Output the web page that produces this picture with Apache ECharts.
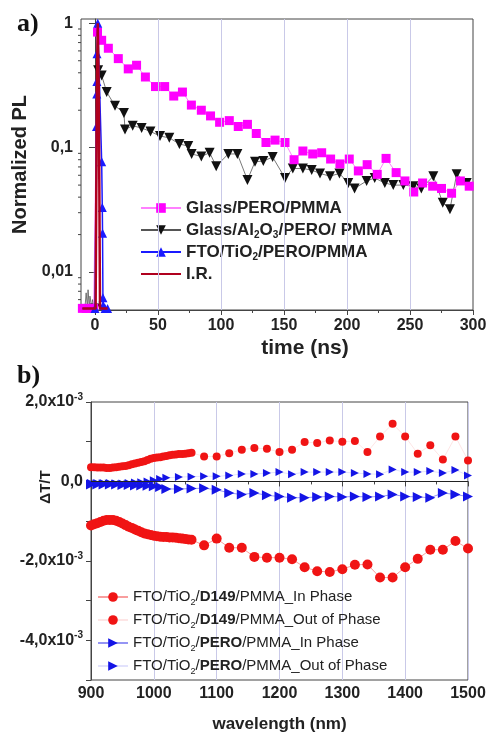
<!DOCTYPE html>
<html lang="en">
<head>
  <meta charset="UTF-8">
  <title>PL decay and photoinduced absorption</title>
  <script src="https://cdn.jsdelivr.net/npm/echarts@6/dist/echarts.min.js"></script>
  <style>
    html, body { margin: 0; padding: 0; background: #fff; }
    #main { width: 487px; height: 733px; }
  </style>
</head>
<body>
<div id="main"></div>
<script>
  // ---- a) normalized PL decay, time in ns ----
  var pinkTime = [-10, -7, -4, -1, 2, 5.3, 10.6, 18.5, 26.4, 33, 40, 48, 55.3, 62.5, 69.4,
    76.5, 84.4, 91.7, 98.9, 106.6, 113.7, 121, 128, 135.7, 142.9,
    150.8, 158, 165, 172.8, 179.9, 187, 194.4, 201.8, 209, 216,
    224, 231, 239, 246, 253, 260, 268, 275, 283, 290, 297];
  var pinkPL = [0.0051, 0.0051, 0.0051, 0.0051, 0.85, 0.73, 0.63, 0.52, 0.43, 0.46, 0.37, 0.31, 0.31, 0.26, 0.28,
    0.22, 0.20, 0.18, 0.16, 0.165, 0.148, 0.154, 0.13, 0.11, 0.115,
    0.11, 0.080, 0.094, 0.089, 0.091, 0.081, 0.074, 0.081, 0.065, 0.073,
    0.061, 0.082, 0.063, 0.054, 0.044, 0.052, 0.049, 0.047, 0.043, 0.054, 0.049];

  var blackTime = [-10, -8, -7, -6, -5.5, -4.5, -4, -2.5, -2, 0,
    2.5, 5.3, 9.3, 15.9, 23, 23.8, 29.9, 37, 44, 51.6,
    59, 67, 74, 76.7, 84.4, 91, 96.2, 105.8, 113, 121,
    127, 133.6, 141, 150.8, 157, 165, 172, 178.6, 186.5, 194,
    201, 206, 215.6, 222, 230, 236.7, 244.7, 252.6, 259, 268.5,
    276, 281.7, 287, 295];
  var blackPL = [0.0051, 0.0051, 0.0068, 0.0051, 0.0072, 0.0051, 0.0064, 0.0051, 0.006, 0.0051,
    0.42, 0.38, 0.28, 0.217, 0.19, 0.14, 0.15, 0.144, 0.135, 0.124,
    0.12, 0.107, 0.103, 0.089, 0.085, 0.091, 0.071, 0.089, 0.089, 0.055,
    0.077, 0.078, 0.084, 0.057, 0.068, 0.068, 0.066, 0.062, 0.059, 0.062,
    0.052, 0.047, 0.054, 0.057, 0.052, 0.050, 0.050, 0.049, 0.047, 0.059,
    0.036, 0.032, 0.061, 0.052];

  var blueTime = [-10, 0, 1.2, 1.4, 1.5, 1.6, 2.2, 5.3, 5.8, 6, 6.3, 6.5, 8, 10];
  var bluePL = [0.0051, 0.0051, 0.148, 0.27, 0.34, 0.57, 1.0, 0.077, 0.033, 0.0205, 0.0062, 0.0054, 0.0051, 0.0051];

  var irTime = [-10, 0.5, 1.5, 2.2, 3, 4, 10];
  var irPL = [0.0051, 0.0051, 0.3, 1.0, 0.3, 0.0051, 0.0051];

  var timeTicks = [0, 50, 100, 150, 200, 250, 300];
  var timeGrid = [50, 100, 150, 200, 250];
  var timeMinor = [25, 75, 125, 175, 225, 275];
  var plTicks = [0.01, 0.1, 1];
  var plMinor = [0.006, 0.007, 0.008, 0.009, 0.02, 0.03, 0.04, 0.05, 0.06, 0.07, 0.08, 0.09,
    0.2, 0.3, 0.4, 0.5, 0.6, 0.7, 0.8, 0.9];

  // ---- b) dT/T versus wavelength, values in units of 1e-3 ----
  var wlDense = [900, 905, 910, 915, 920, 925, 930, 935, 940, 945, 950, 955, 960, 965, 970, 975,
    980, 985, 990, 995, 1000, 1005, 1010, 1015, 1020, 1025, 1030, 1035, 1040, 1045, 1050, 1055, 1060];
  var wlSparse = [1080, 1100, 1120, 1140, 1160, 1180, 1200, 1220, 1240, 1260, 1280,
    1300, 1320, 1340, 1360, 1380, 1400, 1420, 1440, 1460, 1480, 1500];
  var d149InDense = [-1.11, -1.08, -1.05, -1.02, -0.99, -0.97, -0.97, -0.97, -0.99, -1.02, -1.06, -1.10, -1.14, -1.17, -1.21, -1.24,
    -1.28, -1.31, -1.33, -1.35, -1.37, -1.38, -1.39, -1.40, -1.40, -1.41, -1.41, -1.42, -1.43, -1.44, -1.45, -1.46, -1.47];
  var d149InSparse = [-1.61, -1.44, -1.67, -1.67, -1.90, -1.92, -1.92, -1.96, -2.16, -2.26, -2.28,
    -2.21, -2.10, -2.09, -2.42, -2.42, -2.16, -1.95, -1.72, -1.72, -1.50, -1.69];
  var d149OutDense = [0.36, 0.36, 0.35, 0.35, 0.35, 0.34, 0.34, 0.35, 0.36, 0.37, 0.38, 0.39, 0.41, 0.43, 0.45, 0.47,
    0.49, 0.51, 0.54, 0.57, 0.59, 0.60, 0.61, 0.63, 0.64, 0.66, 0.67, 0.68, 0.69, 0.69, 0.70, 0.71, 0.72];
  var d149OutSparse = [0.63, 0.63, 0.71, 0.80, 0.84, 0.82, 0.74, 0.80, 0.99, 0.97, 1.03,
    1.00, 1.02, 0.74, 1.13, 1.45, 1.13, 0.70, 0.91, 0.55, 1.13, 0.53];

  var wlPeroDense = [900, 910, 920, 930, 940, 950, 960, 970, 980, 990, 1000, 1010];
  var wlPeroSparse = [1020, 1040, 1060, 1080, 1100, 1120, 1140, 1160, 1180, 1200, 1220, 1240, 1260,
    1280, 1300, 1320, 1340, 1360, 1380, 1400, 1420, 1440, 1460, 1480, 1500];
  var peroInDense = [-0.08, -0.08, -0.08, -0.08, -0.08, -0.09, -0.09, -0.10, -0.10, -0.11, -0.12, -0.14];
  var peroInSparse = [-0.19, -0.19, -0.18, -0.17, -0.21, -0.29, -0.33, -0.29, -0.35, -0.38, -0.41, -0.41, -0.39,
    -0.38, -0.39, -0.38, -0.39, -0.38, -0.33, -0.38, -0.39, -0.41, -0.29, -0.33, -0.38];
  var peroOutDense = [-0.04, -0.04, -0.04, -0.04, -0.05, -0.05, -0.04, -0.03, -0.02, 0.0, 0.03, 0.06];
  var peroOutSparse = [0.09, 0.11, 0.12, 0.13, 0.13, 0.15, 0.19, 0.19, 0.21, 0.235, 0.18, 0.235, 0.235,
    0.235, 0.235, 0.21, 0.19, 0.18, 0.30, 0.235, 0.235, 0.26, 0.21, 0.29, 0.15];

  var FONT = 'Liberation Sans';
  var TXT = '#222';
  var AX = '#444';
  var GRIDLINE = '#c9c9e8';

  function pairs(xs, ys) {
    return xs.map(function (x, i) { return [x, ys[i]]; });
  }
  // no markers on the pre-trigger baseline noise
  function markAfterZero(xs, ys) {
    return xs.map(function (x, i) {
      return x < 0 ? { value: [x, ys[i]], symbol: 'none' } : [x, ys[i]];
    });
  }

  var A_XMIN = -11.1, A_XMAX = 300, A_YMIN = 0.00495, A_YMAX = 1.083;

  function minorTickX(params, api) {
    var p = api.coord([api.value(0), A_YMIN]);
    return { type: 'line', shape: { x1: p[0], y1: p[1], x2: p[0], y2: p[1] + 3 },
      style: { stroke: AX, lineWidth: 1 } };
  }
  function minorTickY(params, api) {
    var p = api.coord([A_XMIN, api.value(1)]);
    return { type: 'line', shape: { x1: p[0], y1: p[1], x2: p[0] - 3, y2: p[1] },
      style: { stroke: AX, lineWidth: 1 } };
  }

  var legendNamesA = ['Glass/PERO/PMMA', 'Glass/Al2O3/PERO/ PMMA', 'FTO/TiO2/PERO/PMMA',
    { name: 'I.R.', itemStyle: { opacity: 0 } }];
  var legendRichA = {
    'Glass/PERO/PMMA': '{t|Glass/PERO/PMMA}',
    'Glass/Al2O3/PERO/ PMMA': '{t|Glass/Al}{u|2}{t|O}{u|3}{t|/PERO/ PMMA}',
    'FTO/TiO2/PERO/PMMA': '{t|FTO/TiO}{u|2}{t|/PERO/PMMA}',
    'I.R.': '{t|I.R.}'
  };
  var legendNamesB = ['D149 In Phase', 'D149 Out of Phase', 'PERO In Phase', 'PERO Out of Phase'];
  var legendRichB = {
    'D149 In Phase': '{t|FTO/TiO}{u|2}{t|/}{b|D149}{t|/PMMA_In Phase}',
    'D149 Out of Phase': '{t|FTO/TiO}{u|2}{t|/}{b|D149}{t|/PMMA_Out of Phase}',
    'PERO In Phase': '{t|FTO/TiO}{u|2}{t|/}{b|PERO}{t|/PMMA_In Phase}',
    'PERO Out of Phase': '{t|FTO/TiO}{u|2}{t|/}{b|PERO}{t|/PMMA_Out of Phase}'
  };

  function expLabel(v) {
    var n = Math.round(v);
    if (Math.abs(v - n) > 1e-6 || n % 2 !== 0) return '';
    if (n === 0) return '{a|0,0}';
    return '{a|' + n + ',0x10}{s|-3}';
  }

  var chart = echarts.init(document.getElementById('main'));

  var option = {
    animation: false,
    backgroundColor: '#fff',
    textStyle: { fontFamily: FONT },
    grid: [
      { left: 81, top: 19, width: 392, height: 291, show: true, borderColor: AX, borderWidth: 1,
        outerBoundsMode: 'none' },
      { left: 91, top: 402, width: 377, height: 278, show: true, borderColor: AX, borderWidth: 1,
        outerBoundsMode: 'none' }
    ],
    xAxis: [
      {
        gridIndex: 0, type: 'value', min: A_XMIN, max: A_XMAX, splitNumber: 6,
        name: 'time (ns)', nameLocation: 'middle', nameGap: 28,
        nameTextStyle: { fontFamily: FONT, fontWeight: 'bold', fontSize: 21, color: TXT, padding: [0, 0, 0, 56] },
        axisLine: { lineStyle: { color: AX } },
        axisTick: { customValues: timeTicks, length: 5, lineStyle: { color: AX } },
        axisLabel: { customValues: timeTicks, margin: 8, fontFamily: FONT, fontWeight: 'bold', fontSize: 16, color: TXT },
        splitLine: { show: false }
      },
      {
        gridIndex: 1, type: 'value', min: 900, max: 1500, interval: 100,
        name: 'wavelength (nm)', nameLocation: 'middle', nameGap: 36,
        nameTextStyle: { fontFamily: FONT, fontWeight: 'bold', fontSize: 17, color: TXT },
        axisLine: { lineStyle: { color: AX } },
        axisTick: { length: 5, lineStyle: { color: AX } },
        minorTick: { show: true, splitNumber: 2, length: 3, lineStyle: { color: AX } },
        axisLabel: {
          margin: 6, fontFamily: FONT, fontWeight: 'bold', fontSize: 16, color: TXT,
          formatter: function (v) { return String(v); }
        },
        splitLine: { show: true, lineStyle: { color: GRIDLINE, width: 1 } }
      }
    ],
    yAxis: [
      {
        gridIndex: 0, type: 'log', logBase: 10, min: A_YMIN, max: A_YMAX,
        name: 'Normalized PL', nameLocation: 'middle', nameGap: 36,
        nameTextStyle: { fontFamily: FONT, fontWeight: 'bold', fontSize: 20, color: TXT },
        axisLine: { lineStyle: { color: AX } },
        axisTick: { customValues: plTicks, length: 6, lineStyle: { color: AX } },
        axisLabel: {
          customValues: plTicks, margin: 8, fontFamily: FONT, fontWeight: 'bold', fontSize: 16, color: TXT,
          formatter: function (v) {
            if (Math.abs(v - 1) < 1e-9) return '1';
            if (Math.abs(v - 0.1) < 1e-9) return '0,1';
            if (Math.abs(v - 0.01) < 1e-9) return '0,01';
            return '';
          }
        },
        splitLine: { show: false }
      },
      {
        gridIndex: 1, type: 'value', min: -5, max: 2, interval: 1,
        axisLine: { lineStyle: { color: AX } },
        axisTick: { length: 5, lineStyle: { color: AX } },
        axisLabel: {
          margin: 8, formatter: expLabel,
          rich: {
            a: { fontFamily: FONT, fontWeight: 'bold', fontSize: 16, color: TXT, lineHeight: 20 },
            s: { fontFamily: FONT, fontWeight: 'bold', fontSize: 10, color: TXT, lineHeight: 10, verticalAlign: 'top' }
          }
        },
        splitLine: { show: false }
      }
    ],
    legend: [
      {
        data: legendNamesA, orient: 'vertical', left: 135, top: 192,
        itemWidth: 40, itemHeight: 12, itemGap: 0,
        formatter: function (n) { return legendRichA[n]; },
        textStyle: {
          fontFamily: FONT, color: TXT, lineHeight: 22,
          rich: {
            t: { fontFamily: FONT, fontWeight: 'bold', fontSize: 17, color: TXT, lineHeight: 22 },
            u: { fontFamily: FONT, fontWeight: 'bold', fontSize: 10, color: TXT, lineHeight: 12, padding: [10, 0, 0, 0] }
          }
        }
      },
      {
        data: legendNamesB, orient: 'vertical', left: 92, top: 581,
        itemWidth: 30, itemHeight: 12, itemGap: 1,
        formatter: function (n) { return legendRichB[n]; },
        textStyle: {
          fontFamily: FONT, color: TXT, lineHeight: 22,
          rich: {
            t: { fontFamily: FONT, fontSize: 15, color: TXT, lineHeight: 22 },
            b: { fontFamily: FONT, fontWeight: 'bold', fontSize: 15, color: TXT, lineHeight: 22 },
            u: { fontFamily: FONT, fontSize: 9, color: TXT, lineHeight: 11, padding: [11, 0, 0, 0] }
          }
        }
      }
    ],
    graphic: [
      { type: 'text', left: 17, top: 11, style: { text: 'a)', font: 'bold 26px "Liberation Serif"', fill: '#111' } },
      { type: 'text', left: 17, top: 363, style: { text: 'b)', font: 'bold 26px "Liberation Serif"', fill: '#111' } },
      { type: 'text', x: 46, y: 487, rotation: Math.PI / 2,
        style: { text: 'ΔT/T', font: 'bold 15px "Liberation Sans"', fill: TXT, align: 'center', verticalAlign: 'middle' } }
    ],
    series: [
      {
        // vertical grid lines of panel a
        type: 'line', xAxisIndex: 0, yAxisIndex: 0, data: [], z: 0, silent: true,
        markLine: {
          silent: true, symbol: ['none', 'none'], label: { show: false },
          lineStyle: { color: GRIDLINE, type: 'solid', width: 1 },
          data: timeGrid.map(function (t) { return { xAxis: t }; })
        }
      },
      {
        name: 'Glass/Al2O3/PERO/ PMMA', type: 'line', xAxisIndex: 0, yAxisIndex: 0,
        data: markAfterZero(blackTime, blackPL),
        symbol: 'triangle', symbolRotate: 180, symbolSize: 10, z: 2,
        itemStyle: { color: '#111' }, lineStyle: { color: '#555', width: 0.8 }
      },
      {
        name: 'Glass/PERO/PMMA', type: 'line', xAxisIndex: 0, yAxisIndex: 0,
        data: pairs(pinkTime, pinkPL),
        symbol: 'rect', symbolSize: 9, z: 3,
        itemStyle: { color: '#ff00ff' }, lineStyle: { color: '#ff80ff', width: 1 }
      },
      {
        name: 'FTO/TiO2/PERO/PMMA', type: 'line', xAxisIndex: 0, yAxisIndex: 0,
        data: markAfterZero(blueTime, bluePL),
        symbol: 'triangle', symbolSize: 9, z: 4,
        itemStyle: { color: '#1a1aff' }, lineStyle: { color: '#1a1aff', width: 1.5 }
      },
      {
        name: 'I.R.', type: 'line', xAxisIndex: 0, yAxisIndex: 0,
        data: pairs(irTime, irPL), symbol: 'none', z: 5,
        itemStyle: { color: '#d0102a' }, lineStyle: { color: '#b0001e', width: 2.5 }
      },
      {
        type: 'custom', xAxisIndex: 0, yAxisIndex: 0, clip: false, silent: true,
        data: timeMinor.map(function (t) { return [t, A_YMIN]; }), renderItem: minorTickX
      },
      {
        type: 'custom', xAxisIndex: 0, yAxisIndex: 0, clip: false, silent: true,
        data: plMinor.map(function (v) { return [A_XMIN, v]; }), renderItem: minorTickY
      },
      {
        name: 'D149 In Phase', type: 'line', xAxisIndex: 1, yAxisIndex: 1,
        data: pairs(wlDense.concat(wlSparse), d149InDense.concat(d149InSparse)),
        symbol: 'circle', symbolSize: 10,
        itemStyle: { color: '#f01414' }, lineStyle: { color: 'rgba(240,40,40,0.45)', width: 1 },
        markLine: {
          silent: true, symbol: ['none', 'none'], label: { show: false },
          lineStyle: { color: '#222', type: 'solid', width: 1 },
          data: [{ yAxis: 0 }]
        }
      },
      {
        name: 'D149 Out of Phase', type: 'line', xAxisIndex: 1, yAxisIndex: 1,
        data: pairs(wlDense.concat(wlSparse), d149OutDense.concat(d149OutSparse)),
        symbol: 'circle', symbolSize: 8,
        itemStyle: { color: '#f01414' }, lineStyle: { color: 'rgba(240,40,40,0.12)', width: 1 }
      },
      {
        name: 'PERO In Phase', type: 'line', xAxisIndex: 1, yAxisIndex: 1,
        data: pairs(wlPeroDense.concat(wlPeroSparse), peroInDense.concat(peroInSparse)),
        symbol: 'triangle', symbolRotate: -90, symbolSize: 10,
        itemStyle: { color: '#1414e6' }, lineStyle: { color: 'rgba(20,20,230,0.45)', width: 1 }
      },
      {
        name: 'PERO Out of Phase', type: 'line', xAxisIndex: 1, yAxisIndex: 1,
        data: pairs(wlPeroDense.concat(wlPeroSparse), peroOutDense.concat(peroOutSparse)),
        symbol: 'triangle', symbolRotate: -90, symbolSize: 8,
        itemStyle: { color: '#1414e6' }, lineStyle: { color: 'rgba(20,20,230,0.12)', width: 1 }
      }
    ]
  };

  chart.setOption(option);
</script>
</body>
</html>
